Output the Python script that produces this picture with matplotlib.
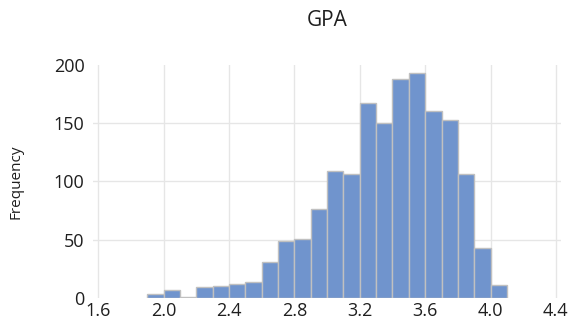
import matplotlib.pyplot as plt

# histogram bins (left edges) and counts
bin_left = [1.9, 2.0, 2.1, 2.2, 2.3, 2.4, 2.5, 2.6, 2.7, 2.8, 2.9,
            3.0, 3.1, 3.2, 3.3, 3.4, 3.5, 3.6, 3.7, 3.8, 3.9, 4.0]
counts = [3, 7, 1, 9, 10, 12, 14, 31, 49, 51, 76,
          109, 106, 167, 150, 188, 193, 160, 153, 106, 43, 11]
x_ticks = [1.6, 2.0, 2.4, 2.8, 3.2, 3.6, 4.0, 4.4]
y_ticks = [0, 50, 100, 150, 200]

plt.rcParams['font.family'] = ['Open Sans', 'DejaVu Sans']
text_color = '#1f1f1f'

fig = plt.figure(figsize=(5.74, 3.26), dpi=100)
ax = fig.add_axes([0.162, 0.086, 0.815, 0.715])

ax.bar(bin_left, counts, width=0.1, align='edge', color='#7094cd',
       edgecolor='#c0c0c0', linewidth=1, zorder=3)

ax.set_xlim(1.567, 4.43)
ax.set_ylim(0, 200)
ax.set_xticks(x_ticks)
ax.set_xticklabels(['%.1f' % t for t in x_ticks])
ax.set_yticks(y_ticks)

ax.grid(True, color='#e6e6e6', linewidth=1, zorder=0)
ygl = ax.get_ygridlines()
ygl[0].set_visible(False)
ygl[-1].set_visible(False)

for s in ax.spines.values():
    s.set_visible(False)
ax.tick_params(length=0, labelsize=13, colors=text_color)
ax.tick_params(axis='x', pad=3)
ax.tick_params(axis='y', pad=6)

ax.set_title('GPA', fontsize=15, color=text_color, pad=28)
ax.set_ylabel('Frequency', fontsize=11, color=text_color, labelpad=22)

fig.savefig('out.png', dpi=100)
